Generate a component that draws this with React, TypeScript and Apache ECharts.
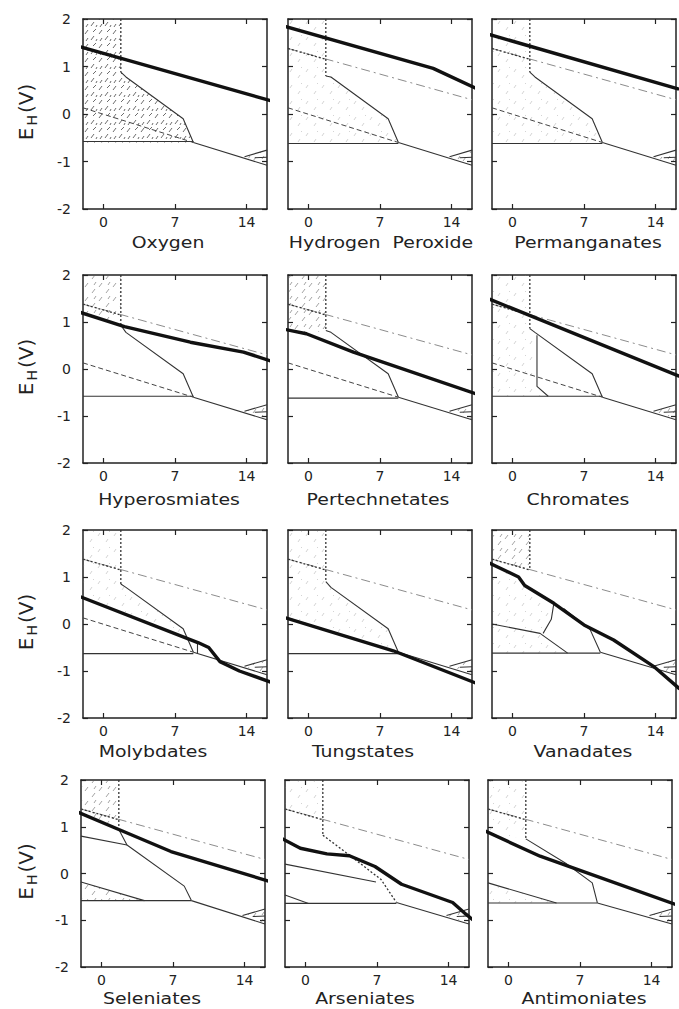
import React, { useEffect, useRef } from "react";
import * as echarts from "echarts";

type Pt = [number, number];

// ---------- axis ticks and titles ----------
const X_TICKS = [0, 7, 14];
const Y_TICKS = [-2, -1, 0, 1, 2];
const PANEL_TITLES = [
  "Oxygen", "Hydrogen  Peroxide", "Permanganates",
  "Hyperosmiates", "Pertechnetates", "Chromates",
  "Molybdates", "Tungstates", "Vanadates",
  "Seleniates", "Arseniates", "Antimoniates",
];

// ---------- thick (oxidant) lines, [pH, E_H] ----------
const OXYGEN: Pt[] = [[-2.7, 1.44], [16.7, 0.26]];
const HYDROGEN_PEROXIDE: Pt[] = [[-2.2, 1.84], [12.2, 0.96], [16.4, 0.54]];
const PERMANGANATES: Pt[] = [[-2.2, 1.67], [16.2, 0.53]];
const HYPEROSMIATES: Pt[] = [[-2.35, 1.21], [2.06, 0.9], [8.5, 0.57], [13.7, 0.36], [16.8, 0.14]];
const PERTECHNETATES: Pt[] = [[-2.7, 0.86], [-0.2, 0.75], [4.4, 0.36], [16.4, -0.53]];
const CHROMATES: Pt[] = [[-2.3, 1.49], [16.3, -0.15]];
const MOLYBDATES: Pt[] = [[-2.5, 0.6], [9.3, -0.4], [10.3, -0.5], [11.4, -0.8], [13.3, -1.0], [16.8, -1.27]];
const TUNGSTATES: Pt[] = [[-2.4, 0.14], [8.3, -0.57], [16.4, -1.26]];
const VANADATES: Pt[] = [[-2.8, 1.35], [0.6, 1.0], [1.2, 0.82], [4.05, 0.44], [7.0, -0.02], [9.9, -0.34], [13.8, -0.9], [16.3, -1.37]];
const SELENIATES: Pt[] = [[-2.7, 1.35], [1.7, 0.94], [6.8, 0.47], [16.6, -0.18]];
const ARSENIATES: Pt[] = [[-2.5, 0.77], [-0.5, 0.54], [2.1, 0.42], [4.3, 0.38], [6.8, 0.15], [9.4, -0.23], [14.4, -0.62], [15.7, -0.87], [16.7, -1.05]];
const ANTIMONIATES: Pt[] = [[-2.3, 0.91], [3.1, 0.37], [5.7, 0.17], [16.7, -0.69]];

// ---------- shared template lines ----------
const O2_LINE: Pt[] = [[-2, 1.38], [16, 0.3]];
const O2_LEFT: Pt[] = [[-2, 1.38], [1.7, 1.15]];
const H2_LINE: Pt[] = [[-2, 0.13], [8.8, -0.6]];
const LOWER_END: Pt = [16, -1.08];
const WEDGE_UPPER: Pt[] = [[13.8, -0.9], [16, -0.76]];
const WEDGE_MID: Pt[] = [[14.8, -0.92], [16, -0.91]];
const WEDGE: Pt[] = [[13.8, -0.9], [16, -0.76], [16, -1.07]];
const VERT_PH = 1.7;
const VERT_ENDS = [0.88, 0.8, 0.88, 0.93, 0.82, 0.86, 0.85, 0.9, 1.15, 0.94, 0.82, 0.74];
const HORIZ_E = [-0.58, -0.62, -0.62, -0.58, -0.62, -0.58, -0.63, -0.63, -0.62, -0.58, -0.64, -0.63];
const SHOW_H2 = [true, true, true, true, true, true, true, true, false, false, false, false];

// ---------- boundaries (from vertical line down to the horizontal) ----------
const BOUNDARY_STD: Pt[] = [[2.2, 0.78], [7.8, -0.1], [8.8, -0.6]];
const BOUNDARY_VANADATES: Pt[] = [[5.0, 0.33], [7.6, -0.12], [8.6, -0.6]];
const BOUNDARY_SELENIATES: Pt[] = [[1.7, 0.94], [2.5, 0.61], [8.1, -0.27], [8.8, -0.58]];
const BOUNDARY_ARSENIATES: Pt[] = [[1.7, 0.82], [4.5, 0.36], [7.4, -0.13], [8.9, -0.62]];
const BOUNDARY_ANTIMONIATES: Pt[] = [[1.7, 0.74], [5.6, 0.22], [8.2, -0.2], [8.7, -0.63]];

// ---------- extra thin lines per panel ----------
const EXTRA_CHROMATES: Pt[][] = [[[2.4, 0.72], [2.4, -0.37], [3.5, -0.58]]];
const EXTRA_MOLYBDATES: Pt[][] = [[[9.2, -0.37], [9.2, -0.63]]];
const EXTRA_VANADATES: Pt[][] = [
  [[4.05, 0.44], [3.8, 0.1], [3.0, -0.2]],
  [[-2, 0.0], [2.7, -0.2], [5.4, -0.62]],
];
const EXTRA_SELENIATES: Pt[][] = [[[-2, 0.8], [2.5, 0.61]], [[-2, -0.18], [4.2, -0.58]]];
const EXTRA_ARSENIATES: Pt[][] = [[[-2, 0.2], [6.9, -0.18]], [[-2, -0.46], [0.3, -0.64]]];
const EXTRA_ANTIMONIATES: Pt[][] = [[[-2, -0.2], [4.7, -0.63]]];

// ---------- hatched regions ----------
const REGION_STD: Pt[] = [[-2, 2], [1.7, 2], [1.7, 0.88], [2.2, 0.78], [7.8, -0.1], [8.8, -0.6], [-2, -0.6]];
const HATCH_OXYGEN = [{ pts: REGION_STD, level: 0 }];
const HATCH_PEROXIDE = [{ pts: REGION_STD, level: 2 }];
const HATCH_PERMANGANATES = [{ pts: REGION_STD, level: 2 }];
const HATCH_HYPEROSMIATES = [{ pts: [[-2, 2], [1.7, 2], [1.7, 0.93], [-2, 1.19]] as Pt[], level: 1 }];
const HATCH_PERTECHNETATES = [{ pts: [[-2, 2], [1.7, 2], [1.7, 0.82], [-0.2, 0.75], [-2, 0.84]] as Pt[], level: 1 }];
const HATCH_CHROMATES = [{ pts: [[-2, 2], [1.7, 2], [1.7, 0.86], [2.4, 0.72], [2.4, -0.37], [3.5, -0.58], [-2, -0.58]] as Pt[], level: 2 }];
const HATCH_MOLYBDATES = [{ pts: [[-2, 2], [1.7, 2], [1.7, 0.88], [2.2, 0.78], [7.8, -0.1], [8.27, -0.31], [-2, 0.56]] as Pt[], level: 2 }];
const HATCH_TUNGSTATES = [{ pts: [[-2, 2], [1.7, 2], [1.7, 0.9], [2.2, 0.78], [7.8, -0.1], [8.3, -0.57], [-2, 0.11]] as Pt[], level: 2 }];
const HATCH_VANADATES = [
  { pts: [[-2, 2], [1.7, 2], [1.7, 1.15], [-2, 1.36]] as Pt[], level: 1 },
  { pts: [[-2, 1.27], [0.6, 1.0], [1.2, 0.82], [4.05, 0.44], [3.8, 0.1], [3.0, -0.2], [5.4, -0.62], [-2, -0.62]] as Pt[], level: 2 },
];
const HATCH_SELENIATES = [
  { pts: [[-2, 2], [1.7, 2], [1.7, 0.94], [-2, 1.3]] as Pt[], level: 1 },
  { pts: [[-2, -0.18], [4.2, -0.58], [-2, -0.58]] as Pt[], level: 1 },
];
const HATCH_ARSENIATES = [{ pts: [[-2, 2], [1.7, 2], [1.7, 1.14], [-2, 1.36]] as Pt[], level: 2 }];
const HATCH_ANTIMONIATES = [
  { pts: [[-2, 2], [1.7, 2], [1.7, 0.74], [-2, 0.88]] as Pt[], level: 2 },
  { pts: [[-2, -0.2], [4.7, -0.63], [-2, -0.63]] as Pt[], level: 2 },
];

const THICK = [OXYGEN, HYDROGEN_PEROXIDE, PERMANGANATES, HYPEROSMIATES, PERTECHNETATES, CHROMATES, MOLYBDATES, TUNGSTATES, VANADATES, SELENIATES, ARSENIATES, ANTIMONIATES];
const BOUNDARIES: (Pt[] | null)[] = [null, null, null, null, null, null, null, null, BOUNDARY_VANADATES, BOUNDARY_SELENIATES, BOUNDARY_ARSENIATES, BOUNDARY_ANTIMONIATES];
const EXTRAS: Pt[][][] = [[], [], [], [], [], EXTRA_CHROMATES, EXTRA_MOLYBDATES, [], EXTRA_VANADATES, EXTRA_SELENIATES, EXTRA_ARSENIATES, EXTRA_ANTIMONIATES];
const HATCHES = [HATCH_OXYGEN, HATCH_PEROXIDE, HATCH_PERMANGANATES, HATCH_HYPEROSMIATES, HATCH_PERTECHNETATES, HATCH_CHROMATES, HATCH_MOLYBDATES, HATCH_TUNGSTATES, HATCH_VANADATES, HATCH_SELENIATES, HATCH_ARSENIATES, HATCH_ANTIMONIATES];

// ---------- layout ----------
const GRID_LEFT = [[83, 288, 492], [83, 288, 492], [83, 288, 492], [81, 285, 488]];
const GRID_TOP = [19, 275, 530, 780];
const GRID_H = [190, 188, 188, 187];
const GRID_W = 184;
const TITLE_X = [168, 381, 588, 169, 378, 578, 153, 363, 583, 152, 365, 584];
const TITLE_Y = [243, 500, 752, 999];
const FONT = "DejaVu Sans";

// hatch tile: irregular short strokes, like a scanned stipple
const STROKES_DENSE = [[1, 6, 4, 2], [7, 12, 10, 8], [9, 4, 12, 1], [2, 13, 4, 10], [12, 13, 13, 11]];
const STROKES_MED = [[1, 7, 4, 3], [8, 13, 11, 9], [10, 5, 12, 2]];
const STROKES_LIGHT = [[2, 8, 4, 5], [10, 14, 12, 11], [13, 4, 14, 3]];

function makeHatch(level: number) {
  const size = level === 0 ? 14 : level === 1 ? 14 : 16;
  const c = document.createElement("canvas");
  c.width = size;
  c.height = size;
  const ctx = c.getContext("2d")!;
  ctx.strokeStyle = level === 0 ? "rgba(60,60,60,0.75)" : level === 1 ? "rgba(90,90,90,0.55)" : "rgba(120,120,120,0.32)";
  ctx.lineWidth = 1;
  const strokes = level === 0 ? STROKES_DENSE : level === 1 ? STROKES_MED : STROKES_LIGHT;
  for (const s of strokes) {
    ctx.beginPath();
    ctx.moveTo(s[0], s[1]);
    ctx.lineTo(s[2], s[3]);
    ctx.stroke();
  }
  return { image: c.toDataURL(), repeat: "repeat", imageWidth: size, imageHeight: size };
}

export default function App() {
  const ref = useRef<HTMLDivElement>(null);
  useEffect(() => {
    if (!ref.current) return;
    const chart = echarts.init(ref.current, null, { renderer: "svg" });
    const patterns = [makeHatch(0), makeHatch(1), makeHatch(2)];

    const grids: any[] = [];
    const xAxes: any[] = [];
    const yAxes: any[] = [];
    const series: any[] = [];
    const graphics: any[] = [];

    const axisLine = { show: true, onZero: false, lineStyle: { color: "#222", width: 1.5 } };
    const tickStyle = { color: "#222", width: 1.2 };

    for (let i = 0; i < 12; i++) {
      const r = Math.floor(i / 3);
      const c = i % 3;
      grids.push({ left: GRID_LEFT[r][c], top: GRID_TOP[r], width: GRID_W, height: GRID_H[r], containLabel: false });
      const xBase = { type: "value", gridIndex: i, min: -2, max: 16, splitLine: { show: false }, axisLine };
      xAxes.push({
        ...xBase, position: "bottom",
        axisTick: { show: true, inside: true, length: 5, customValues: X_TICKS, lineStyle: tickStyle },
        axisLabel: { show: true, customValues: X_TICKS, margin: 6, fontSize: 14, color: "#222", fontFamily: FONT },
      });
      xAxes.push({
        ...xBase, position: "top",
        axisTick: { show: true, inside: true, length: 5, customValues: X_TICKS, lineStyle: tickStyle },
        axisLabel: { show: false },
      });
      const yBase = { type: "value", gridIndex: i, min: Y_TICKS[0], max: Y_TICKS[Y_TICKS.length - 1], interval: 1, splitLine: { show: false }, axisLine };
      yAxes.push({
        ...yBase, position: "left",
        axisTick: { show: true, inside: true, length: 5, lineStyle: tickStyle },
        axisLabel: { show: c === 0, margin: 12, fontSize: 14, color: "#222", fontFamily: FONT },
      });
      yAxes.push({
        ...yBase, position: "right",
        axisTick: { show: true, inside: true, length: 5, lineStyle: tickStyle },
        axisLabel: { show: false },
      });

      const xi = 2 * i;
      const line = (data: Pt[], lineStyle: any, z = 3, clip = true) => ({
        type: "line", xAxisIndex: xi, yAxisIndex: xi, data, symbol: "none", silent: true,
        clip, z, lineStyle, animation: false,
      });

      const polys = [...HATCHES[i], { pts: WEDGE, level: 1 }];
      series.push({
        type: "custom", xAxisIndex: xi, yAxisIndex: xi, silent: true, z: 1,
        data: polys.map((p) => p.pts[0]),
        renderItem: (params: any, api: any) => {
          const poly = polys[params.dataIndex];
          return {
            type: "polygon",
            shape: { points: poly.pts.map((pt) => api.coord(pt)) },
            style: { fill: patterns[poly.level], stroke: null },
          };
        },
      });

      const THIN = { color: "#333", width: 1.1 };
      const DOT = { color: "#333", width: 1.3, type: [2, 2] };
      series.push(line(O2_LINE, { color: "#8c8c8c", width: 1, type: [9, 4, 2, 4] }, 2));
      series.push(line(O2_LEFT, DOT));
      series.push(line([[VERT_PH, 2], [VERT_PH, VERT_ENDS[i]]], DOT));
      const bnd: Pt[] = BOUNDARIES[i] ?? [[VERT_PH, VERT_ENDS[i]], ...BOUNDARY_STD];
      series.push(line(bnd, i === 10 ? DOT : THIN));
      const meet = bnd[bnd.length - 1];
      series.push(line([[-2, HORIZ_E[i]], [meet[0], HORIZ_E[i]]], THIN));
      series.push(line([meet, LOWER_END], THIN));
      if (SHOW_H2[i]) series.push(line(H2_LINE, { color: "#444", width: 1, type: [5, 3] }));
      series.push(line(WEDGE_UPPER, THIN));
      series.push(line(WEDGE_MID, THIN));
      for (const ex of EXTRAS[i]) series.push(line(ex, THIN));
      series.push(line(THICK[i], { color: "#111", width: 3.4, cap: "round" }, 5, false));

      graphics.push({
        type: "text", x: TITLE_X[i], y: TITLE_Y[r], scaleX: 1.18, silent: true,
        style: { text: PANEL_TITLES[i], fontSize: 16, fontFamily: FONT, fill: "#222", align: "center", verticalAlign: "middle" },
      });
    }

    for (let r = 0; r < 4; r++) {
      graphics.push({
        type: "text", x: 26, y: GRID_TOP[r] + GRID_H[r] / 2 - 2, rotation: Math.PI / 2, silent: true,
        style: {
          text: "{a|E}{b|H}{a|(V)}",
          align: "center", verticalAlign: "middle", fill: "#222",
          rich: {
            a: { fontSize: 20, fontFamily: FONT, fill: "#222", lineHeight: 26, verticalAlign: "middle" },
            b: { fontSize: 14, fontFamily: FONT, fill: "#222", lineHeight: 26, verticalAlign: "bottom", padding: [0, 2, 0, 2] },
          },
        },
      });
    }

    chart.setOption({
      animation: false,
      backgroundColor: "#ffffff",
      grid: grids,
      xAxis: xAxes,
      yAxis: yAxes,
      series,
      graphic: graphics,
    });
    return () => chart.dispose();
  }, []);
  return <div ref={ref} style={{ width: 679, height: 1009, position: "absolute", left: 0, top: 0 }} />;
}
